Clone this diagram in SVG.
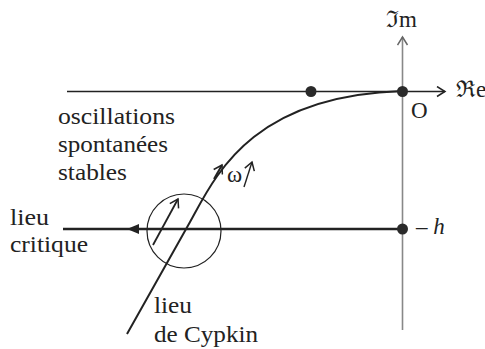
<svg xmlns="http://www.w3.org/2000/svg" width="485" height="349" viewBox="0 0 485 349">
<style>
text{font-family:"Liberation Serif","DejaVu Serif",serif;font-size:23px;fill:#222}
.ax{stroke:#888;stroke-width:1.6;fill:none}
.dot{fill:#2a2a2a}
.ln{stroke:#222;fill:none}
</style>
<defs>
<marker id="open" markerWidth="12" markerHeight="12" refX="10" refY="6" orient="auto" markerUnits="userSpaceOnUse">
<path d="M2,1 L10,6 L2,11" fill="none" stroke="#222" stroke-width="1.5"/>
</marker>
<marker id="openg" markerWidth="12" markerHeight="12" refX="10" refY="6" orient="auto" markerUnits="userSpaceOnUse">
<path d="M2,1 L10,6 L2,11" fill="none" stroke="#666" stroke-width="1.5"/>
</marker>
<marker id="fill" markerWidth="14" markerHeight="12" refX="12" refY="6" orient="auto" markerUnits="userSpaceOnUse">
<path d="M0,1 L12,6 L0,11 Z" fill="#222"/>
</marker>
</defs>
<g id="connectors">
<line class="ax" x1="402.5" y1="330" x2="402.5" y2="37" marker-end="url(#openg)"/>
<line class="ln" x1="67" y1="91.5" x2="445" y2="91.5" stroke-width="1.6" marker-end="url(#open)"/>
<line class="ln" x1="63" y1="229" x2="402" y2="229" stroke-width="2.6"/>
<path d="M140,229 L127,229" class="ln" stroke-width="2" marker-end="url(#fill)"/>
<path class="ln" stroke-width="2" d="M127,334 L190,222 C215,177 250,96 402,91"/>
<path class="ln" stroke-width="2" d="M214,179 L222,165" marker-end="url(#open)"/>
<line class="ln" stroke-width="1.8" x1="153" y1="245" x2="178" y2="199" marker-end="url(#open)"/>
<line class="ln" stroke-width="1.4" x1="244" y1="187" x2="252" y2="162" marker-end="url(#open)"/>
</g>
<g id="circle"><circle cx="184" cy="231" r="37" class="ln" stroke-width="1.2"/></g>
<g id="origin"><circle class="dot" cx="402.5" cy="91.5" r="5.5"/><text x="411" y="118">O</text></g>
<g id="point"><circle class="dot" cx="311" cy="91.5" r="5.5"/></g>
<g id="minush"><circle class="dot" cx="402.5" cy="229" r="5.5"/><text x="416" y="234">– <tspan font-style="italic">h</tspan></text></g>
<g id="axis-labels">
<text x="386" y="27">ℑm</text>
<text x="456" y="97">ℜe</text>
</g>
<g id="label-stable">
<text x="58" y="124" textLength="117" lengthAdjust="spacingAndGlyphs">oscillations</text>
<text x="58" y="152" textLength="110" lengthAdjust="spacingAndGlyphs">spontanées</text>
<text x="58" y="180" textLength="69" lengthAdjust="spacingAndGlyphs">stables</text>
</g>
<g id="label-critique">
<text x="10" y="225" textLength="39" lengthAdjust="spacingAndGlyphs">lieu</text>
<text x="10" y="252" textLength="78" lengthAdjust="spacingAndGlyphs">critique</text>
</g>
<g id="label-cypkin">
<text x="154" y="313" textLength="38" lengthAdjust="spacingAndGlyphs">lieu</text>
<text x="154" y="342" textLength="104" lengthAdjust="spacingAndGlyphs">de Cypkin</text>
</g>
<g id="omega"><text x="227" y="182" font-size="21">ω</text></g>
</svg>
